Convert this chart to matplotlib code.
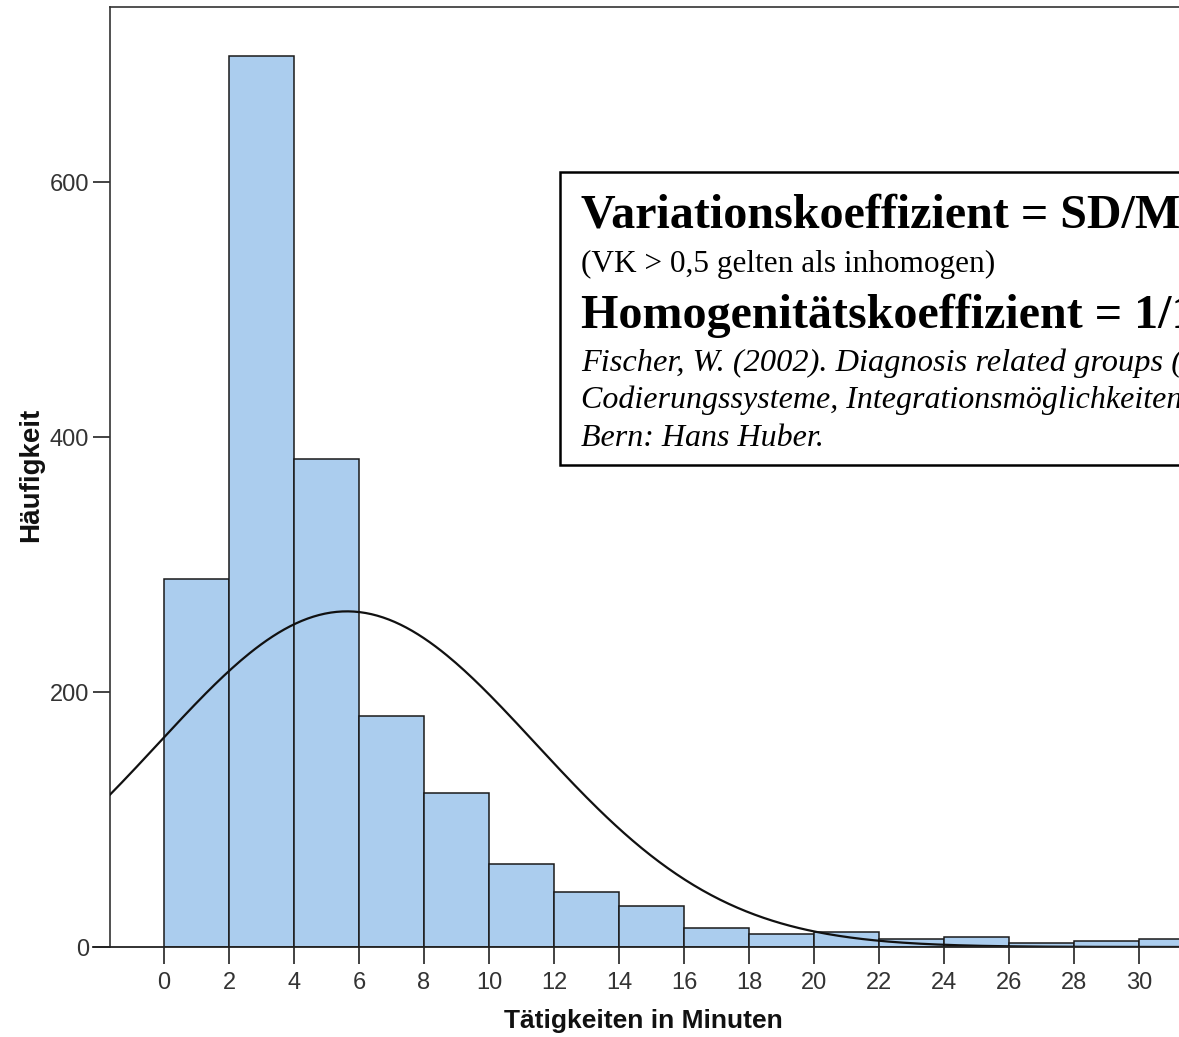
import numpy as np
import matplotlib
matplotlib.use("Agg")
from matplotlib import pyplot as plt
from matplotlib.patches import Rectangle
from matplotlib.lines import Line2D

# histogram data: duration of activities, bins of 2 minutes
bin_edges = list(range(0, 34, 2))
counts = [289, 699, 383, 181, 121, 65, 43, 32, 15, 10, 12, 6, 8, 3, 4.5, 6]

# parameters of the fitted normal curve
mean = 5.63
sd = 5.8
n_total = 1914
bin_width = 2

x_ticks = list(range(0, 32, 2))
y_ticks = [0, 200, 400, 600]

W, H = 1179, 1037
fig = plt.figure(figsize=(W / 100, H / 100), dpi=100)
fig.patch.set_facecolor('white')

def fx(px):
    return px / W

def fy(py):
    return 1 - py / H

# axes box in pixels: left 110, top 7, bottom 947, runs off the right edge
ax = fig.add_axes([fx(110), fy(947), (1269 - 110) / W, (947 - 7) / H])
ax.set_xlim(-1.66, 34)
ax.set_ylim(0, 737.4)

ax.bar(bin_edges[:-1], counts, width=bin_width, align='edge',
       color='#abcdee', edgecolor='#1a1a1a', linewidth=1.1, zorder=2)

# normal curve scaled to counts per bin
xs = np.linspace(-1.66, 34, 400)
ys = n_total * bin_width / (sd * np.sqrt(2 * np.pi)) * np.exp(-(xs - mean) ** 2 / (2 * sd ** 2))
ax.plot(xs, ys, color='#111111', linewidth=1.6, zorder=3)

for side in ['left', 'top', 'right']:
    ax.spines[side].set_color('#333333')
    ax.spines[side].set_linewidth(1.2)
ax.spines['bottom'].set_visible(False)

# x axis line reaches a bit left of the y axis
ax.add_line(Line2D([-0.015, 1], [0, 0], transform=ax.transAxes,
                   color='#222222', linewidth=1.3, clip_on=False, zorder=4))

ax.set_xticks(x_ticks)
ax.set_yticks(y_ticks)
ax.tick_params(axis='both', direction='out', length=12, width=1.2, color='#222222',
               labelsize=17, labelcolor='#333333')
ax.tick_params(axis='x', pad=6)
ax.tick_params(axis='y', pad=3)
for lab in ax.get_xticklabels() + ax.get_yticklabels():
    lab.set_fontfamily('Liberation Sans')

fig.text(fx(643), fy(1021), 'Tätigkeiten in Minuten', ha='center', va='center',
         fontsize=19, fontweight='bold', family='Liberation Sans', color='#111111')
fig.text(fx(31), fy(475), 'Häufigkeit', ha='center', va='center', rotation=90,
         fontsize=20, fontweight='bold', family='Liberation Sans', color='#111111')

# info box with formulas and citation
box = Rectangle((fx(560), fy(465)), (1320 - 560) / W, (465 - 172) / H,
                transform=fig.transFigure, facecolor='white', edgecolor='black',
                linewidth=1.8, zorder=5)
fig.patches.append(box)

serif = 'Liberation Serif'
fig.text(fx(581), fy(227), 'Variationskoeffizient = SD/MW', fontsize=34.6,
         fontweight='bold', family=serif, va='baseline', zorder=6)
fig.text(fx(581), fy(272), '(VK > 0,5 gelten als inhomogen)', fontsize=22.5,
         family=serif, va='baseline', zorder=6)
fig.text(fx(581), fy(328), 'Homogenitätskoeffizient = 1/1+VK', fontsize=34.6,
         fontweight='bold', family=serif, va='baseline', zorder=6)
fig.text(fx(581), fy(371), 'Fischer, W. (2002). Diagnosis related groups (DRGs) und Pflege: Grundlagen,',
         fontsize=23.3, style='italic', family=serif, va='baseline', zorder=6)
fig.text(fx(581), fy(408), 'Codierungssysteme, Integrationsmöglichkeiten.',
         fontsize=23, style='italic', family=serif, va='baseline', zorder=6)
fig.text(fx(581), fy(446), 'Bern: Hans Huber.',
         fontsize=23, style='italic', family=serif, va='baseline', zorder=6)

fig.savefig('out.png', dpi=100)
